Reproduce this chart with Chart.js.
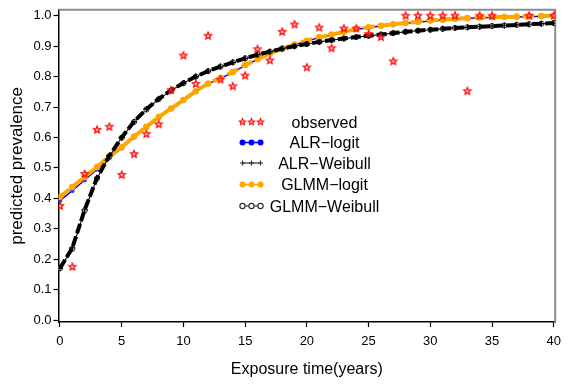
<!DOCTYPE html>
<html>
<head>
<meta charset="utf-8">
<title>predicted prevalence</title>
<script src="https://cdn.jsdelivr.net/npm/chart.js@4.4.0/dist/chart.umd.min.js"></script>
<style>
  html, body { margin: 0; padding: 0; background: #fff; }
  #chart { display: block; }
</style>
</head>
<body>
<canvas id="chart" width="568" height="385"></canvas>
<script>
// data
var years = [0,1,2,3,4,5,6,7,8,9,10,11,12,13,14,15,16,17,18,19,20,
             21,22,23,24,25,26,27,28,29,30,31,32,33,34,35,36,37,38,39,40];

var obsYears = [0,1,2,3,4,5,6,7,8,9,10,11,12,13,14,15,16,17,18,19,20,
                21,22,23,24,25,26,27,28,29,30,31,32,33,34,35,38,40];
var observed = [0.375,0.175,0.48,0.625,0.635,0.477,0.545,0.611,0.643,0.755,0.869,
                0.776,0.934,0.79,0.768,0.803,0.89,0.853,0.947,0.971,0.83,
                0.961,0.893,0.958,0.958,0.94,0.93,0.85,1.0,1.0,1.0,1.0,1.0,0.752,1.0,1.0,1.0,1.0];

var alrLogit = [0.392,0.425,0.46,0.495,0.532,0.565,0.601,0.634,0.666,0.694,0.722,
                0.751,0.776,0.794,0.814,0.837,0.856,0.875,0.89,0.904,0.917,
                0.928,0.937,0.946,0.955,0.961,0.966,0.971,0.975,0.979,0.983,
                0.986,0.989,0.991,0.993,0.994,0.995,0.996,0.997,0.998,0.998];

var glmmLogit = [0.405,0.437,0.47,0.503,0.538,0.568,0.603,0.635,0.667,0.695,0.723,
                 0.752,0.777,0.795,0.815,0.838,0.857,0.876,0.891,0.905,0.918,
                 0.929,0.938,0.947,0.956,0.962,0.967,0.972,0.976,0.98,0.984,
                 0.987,0.99,0.992,0.994,0.995,0.996,0.997,0.998,0.999,0.999];

var alrWeibull = [0.17,0.237,0.362,0.467,0.54,0.6,0.652,0.693,0.727,0.755,0.779,
                  0.8,0.818,0.833,0.847,0.86,0.872,0.882,0.892,0.9,0.907,
                  0.914,0.92,0.925,0.93,0.934,0.938,0.943,0.947,0.951,0.954,
                  0.957,0.96,0.962,0.964,0.966,0.968,0.97,0.972,0.974,0.976];

var glmmWeibull = [0.17,0.234,0.36,0.465,0.538,0.599,0.651,0.692,0.726,0.754,0.778,
                   0.8,0.818,0.833,0.847,0.86,0.872,0.882,0.892,0.9,0.907,
                   0.914,0.92,0.925,0.93,0.934,0.938,0.943,0.947,0.951,0.954,
                   0.957,0.96,0.962,0.964,0.966,0.968,0.97,0.972,0.974,0.976];

var xTicks = [0,5,10,15,20,25,30,35,40];
var yTicks = [0,0.1,0.2,0.3,0.4,0.5,0.6,0.7,0.8,0.9,1.0];
var seriesNames = ['observed', 'ALR\u2212logit', 'ALR\u2212Weibull', 'GLMM\u2212logit', 'GLMM\u2212Weibull'];

function pairs(xs, ys) {
  return xs.map(function(x, i) { return { x: x, y: ys[i] }; });
}

// small 5 point star used as marker
function makeStar(r, lw) {
  var size = Math.ceil(r * 2 + lw * 2 + 2);
  var c = document.createElement('canvas');
  c.width = size; c.height = size;
  var g = c.getContext('2d');
  var cx = size / 2, cy = size / 2;
  g.beginPath();
  for (var k = 0; k < 10; k++) {
    var rr = (k % 2 === 0) ? r : r * 0.45;
    var a = -Math.PI / 2 + k * Math.PI / 5;
    var px = cx + rr * Math.cos(a), py = cy + rr * Math.sin(a);
    if (k === 0) g.moveTo(px, py); else g.lineTo(px, py);
  }
  g.closePath();
  g.fillStyle = 'rgba(255,150,150,0.5)';
  g.fill();
  g.strokeStyle = '#ff0000';
  g.lineWidth = lw;
  g.stroke();
  return c;
}
var starBig = makeStar(3.8, 1.2);
var starSmall = makeStar(3.3, 1.1);

var FONT = 'Arial, "Liberation Sans", Helvetica, sans-serif';

// legend look, one entry per series
var legendLook = [
  { line: null, marker: 'star' },
  { line: '#0000ff', lw: 1.5, marker: 'dot', fill: '#0000ff', r: 3 },
  { line: '#333333', lw: 1.2, marker: 'cross', r: 2.5 },
  { line: '#ffa500', lw: 1.5, marker: 'dot', fill: '#ffa500', r: 3 },
  { line: '#333333', lw: 1.2, marker: 'ring', r: 2.6 }
];

var framePlugin = {
  id: 'frame',
  beforeDatasetsDraw: function(chart) {
    var a = chart.chartArea, ctx = chart.ctx;
    ctx.save();
    ctx.strokeStyle = '#8c8c8c';
    ctx.lineWidth = 2;
    ctx.beginPath();
    ctx.moveTo(a.left, a.top);
    ctx.lineTo(a.right, a.top);
    ctx.lineTo(a.right, a.bottom);
    ctx.stroke();
    ctx.restore();
  }
};

var legendPlugin = {
  id: 'innerLegend',
  afterDatasetsDraw: function(chart) {
    var ctx = chart.ctx;
    var rows = [122, 142.5, 163, 184.5, 206];
    var mx = [242.5, 251.5, 260.5];
    ctx.save();
    seriesNames.forEach(function(name, i) {
      var look = legendLook[i], y = rows[i];
      if (look.line) {
        ctx.strokeStyle = look.line;
        ctx.lineWidth = look.lw;
        ctx.beginPath();
        ctx.moveTo(mx[0], y); ctx.lineTo(mx[2], y);
        ctx.stroke();
      }
      mx.forEach(function(x) {
        if (look.marker === 'star') {
          ctx.drawImage(starSmall, x - starSmall.width / 2, y - starSmall.height / 2);
        } else if (look.marker === 'dot') {
          ctx.fillStyle = look.fill;
          ctx.beginPath(); ctx.arc(x, y, look.r, 0, Math.PI * 2); ctx.fill();
        } else if (look.marker === 'ring') {
          ctx.fillStyle = '#fff';
          ctx.strokeStyle = '#333';
          ctx.lineWidth = 1.2;
          ctx.beginPath(); ctx.arc(x, y, look.r, 0, Math.PI * 2); ctx.fill(); ctx.stroke();
        } else if (look.marker === 'cross') {
          ctx.strokeStyle = '#333';
          ctx.lineWidth = 1.2;
          ctx.beginPath();
          ctx.moveTo(x - look.r, y); ctx.lineTo(x + look.r, y);
          ctx.moveTo(x, y - look.r); ctx.lineTo(x, y + look.r);
          ctx.stroke();
        }
      });
      ctx.fillStyle = '#000';
      ctx.font = '16px ' + FONT;
      ctx.textAlign = 'center';
      ctx.textBaseline = 'middle';
      ctx.fillText(name, 324.5, y + 1.5);
    });
    ctx.restore();
  }
};

var ctx = document.getElementById('chart');

var myChart = new Chart(ctx, {
  type: 'line',
  data: {
    datasets: [{
      label: seriesNames[0],
      data: pairs(obsYears, observed),
      showLine: false,
      pointStyle: starBig,
      borderColor: '#ff0000',
      backgroundColor: '#ff0000'
    }, {
      label: seriesNames[2],
      data: pairs(years, alrWeibull),
      borderColor: '#000000',
      borderWidth: 4,
      borderDash: [10, 3],
      pointStyle: 'cross',
      pointRadius: 3,
      pointBorderColor: '#000000',
      pointBorderWidth: 1.2
    }, {
      label: seriesNames[4],
      data: pairs(years, glmmWeibull),
      borderColor: '#111111',
      borderWidth: 1.2,
      pointStyle: 'circle',
      pointRadius: 2.6,
      pointBorderColor: '#333333',
      pointBackgroundColor: '#ffffff',
      pointBorderWidth: 1
    }, {
      label: seriesNames[3],
      data: pairs(years, glmmLogit),
      borderColor: '#ffa500',
      borderWidth: 4,
      borderDash: [12, 4],
      pointStyle: 'circle',
      pointRadius: 3.3,
      pointBorderWidth: 0,
      pointBackgroundColor: '#ffa500'
    }, {
      label: seriesNames[1],
      data: pairs(years, alrLogit),
      borderColor: '#0000ff',
      borderWidth: 1.5,
      pointStyle: 'circle',
      pointRadius: 2.4,
      pointBorderWidth: 0,
      pointBackgroundColor: '#3a3aff'
    }]
  },
  options: {
    responsive: false,
    animation: false,
    layout: { padding: { top: 6, right: 3, left: 0, bottom: 0 } },
    plugins: {
      legend: { display: false },
      tooltip: { enabled: false }
    },
    elements: { line: { tension: 0, fill: false } },
    scales: {
      x: {
        type: 'linear',
        min: -0.119,
        max: 40.119,
        afterBuildTicks: function(s) {
          s.ticks = xTicks.map(function(v) { return { value: v }; });
        },
        afterFit: function(s) { s.height = 63; },
        grid: { drawOnChartArea: false, tickLength: 5, tickColor: '#000', tickWidth: 1.2 },
        border: { color: '#000', width: 1.5 },
        ticks: { color: '#000', font: { family: FONT, size: 13 }, padding: 7, maxRotation: 0, autoSkip: false },
        title: {
          display: true,
          text: 'Exposure time(years)',
          color: '#000',
          font: { family: FONT, size: 16 },
          padding: { top: 0, bottom: 6 }
        }
      },
      y: {
        min: -0.0065,
        max: 1.0195,
        afterBuildTicks: function(s) {
          s.ticks = yTicks.map(function(v) { return { value: v }; });
        },
        afterFit: function(s) { s.width = 58.5; },
        grid: { drawOnChartArea: false, tickLength: 5, tickColor: '#000', tickWidth: 1.2 },
        border: { color: '#000', width: 1.5 },
        ticks: {
          color: '#000',
          font: { family: FONT, size: 13 },
          padding: 2,
          callback: function(v) { return Number(v).toFixed(1); }
        },
        title: {
          display: true,
          text: 'predicted prevalence',
          color: '#000',
          font: { family: FONT, size: 17 },
          padding: { top: 7, bottom: 0 }
        }
      }
    }
  },
  plugins: [framePlugin, legendPlugin]
});
</script>
</body>
</html>
